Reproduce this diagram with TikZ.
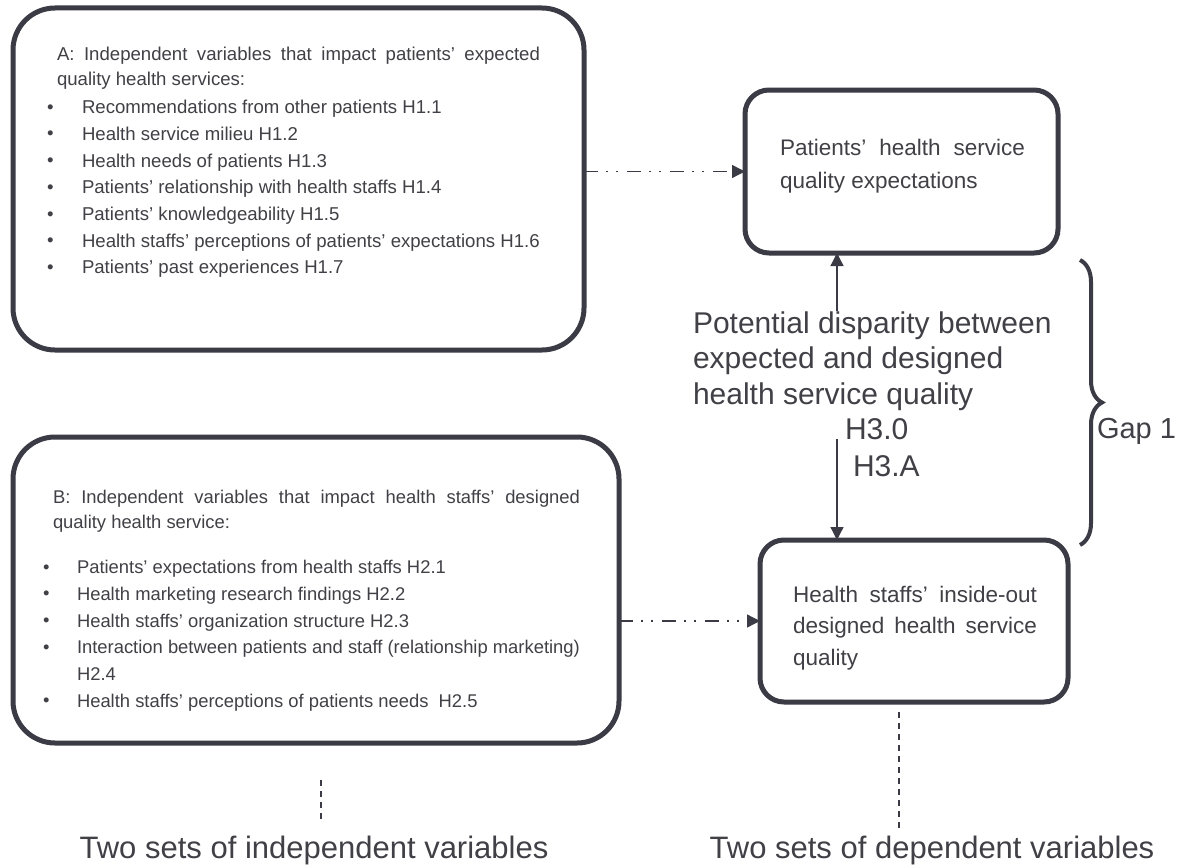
\documentclass[tikz,border=0pt]{standalone}
\usepackage{fontspec}
\setmainfont{Liberation Sans}
\usetikzlibrary{arrows.meta,decorations.pathreplacing,calc}
\definecolor{ink}{HTML}{3A3B45}
\definecolor{txt}{HTML}{404046}
% one bulleted line: shift of the bullet, room for the bullet, text
\newcommand\bulletline[3]{\noindent\hspace*{#1}\makebox[#2][l]{\raisebox{0.5pt}{•}}#3\par}
\begin{document}
\begin{tikzpicture}[x=1pt,y=-1pt,
  bigbox/.style={draw=ink, line width=5pt, rounded corners=42pt, inner sep=0pt, outer sep=0pt},
  smallbox/.style={draw=ink, line width=5pt, rounded corners=24pt, inner sep=0pt, outer sep=0pt},
  txtnode/.style={inner sep=0pt, outer sep=0pt, text=txt},
  linkarrow/.style={draw=ink, line width=1.3pt,
    dash pattern=on 14pt off 8pt on 2pt off 8pt on 2pt off 9pt,
    -{Triangle[length=13pt,width=13pt]}},
  gaparrow/.style={draw=ink, line width=1.3pt, -{Triangle[length=13pt,width=13pt]}},
  guide/.style={draw=ink, line width=1.2pt, dash pattern=on 6pt off 5pt},
]
\fill[white] (0,0) rectangle (1188,867);
\useasboundingbox (0,0) rectangle (1188,867);

% ---- boxes ----
\node[bigbox, minimum width=571pt, minimum height=342pt] (boxA) at (298.5,179) {};
\node[bigbox, minimum width=606pt, minimum height=306pt] (boxB) at (316,590) {};
\node[smallbox, minimum width=313pt, minimum height=163pt] (boxP) at (901.5,171.5) {};
\node[smallbox, minimum width=308pt, minimum height=162pt] (boxH) at (914,621) {};

% ---- box A contents ----
\node[txtnode, anchor=base west] (listA) at (57,60) {\begin{minipage}[t]{483pt}
  \fontsize{18.6}{25}\selectfont\parindent=0pt
  \makebox[483pt][s]{A: Independent variables that impact patients’ expected}\par
  quality health services:\par
  \vspace{2pt}
  {\fontsize{18.6}{26.7}\selectfont
  \bulletline{-10pt}{35pt}{Recommendations from other patients H1.1}
  \bulletline{-10pt}{35pt}{Health service milieu H1.2}
  \bulletline{-10pt}{35pt}{Health needs of patients H1.3}
  \bulletline{-10pt}{35pt}{Patients’ relationship with health staffs H1.4}
  \bulletline{-10pt}{35pt}{Patients’ knowledgeability H1.5}
  \bulletline{-10pt}{35pt}{Health staffs’ perceptions of patients’ expectations H1.6}
  \bulletline{-10pt}{35pt}{Patients’ past experiences H1.7}}
\end{minipage}};

% ---- box B contents ----
\node[txtnode, anchor=base west] (listB) at (53,503.6) {\begin{minipage}[t]{527pt}
  \fontsize{18.4}{25}\selectfont\parindent=0pt
  \makebox[527pt][s]{B: Independent variables that impact health staffs’ designed}\par
  quality health service:\par
  \vspace{18.3pt}
  {\fontsize{18.4}{26.7}\selectfont
  \bulletline{-10pt}{34pt}{Patients’ expectations from health staffs H2.1}
  \bulletline{-10pt}{34pt}{Health marketing research findings H2.2}
  \bulletline{-10pt}{34pt}{Health staffs’ organization structure H2.3}
  \bulletline{-10pt}{34pt}{Interaction between patients and staff (relationship marketing)}
  \noindent\hspace*{24pt}H2.4\par
  \bulletline{-10pt}{34pt}{Health staffs’ perceptions of patients needs\ \ H2.5}}
\end{minipage}};

% ---- dependent variable boxes ----
\node[txtnode, anchor=base west] (textP) at (780,155) {\begin{minipage}[t]{245pt}
  \fontsize{22.5}{33}\selectfont\parindent=0pt
  \makebox[245pt][s]{Patients’ health service}\par
  quality expectations
\end{minipage}};
\node[txtnode, anchor=base west] (textH) at (793,602) {\begin{minipage}[t]{244pt}
  \fontsize{22.5}{31.5}\selectfont\parindent=0pt
  \makebox[244pt][s]{Health staffs’ inside-out}\par
  \makebox[244pt][s]{designed health service}\par
  quality
\end{minipage}};

% ---- gap between expected and designed quality ----
\node[txtnode, anchor=base west] (gapText) at (693,333) {\begin{minipage}[t]{380pt}
  \fontsize{30}{35.5}\selectfont\parindent=0pt
  Potential disparity between\par
  expected and designed\par
  health service quality
\end{minipage}};
\node[txtnode, anchor=base west] (h30) at (845,439) {\fontsize{30}{36}\selectfont H3.0};
\node[txtnode, anchor=base west] (h3a) at (853,476) {\fontsize{30}{36}\selectfont H3.A};
\coordinate (axis) at (837,0);
\draw[gaparrow] (gapText.north -| axis) -- (boxP.south -| axis);
\draw[gaparrow] (h30.south -| axis) -- (boxH.north -| axis);

% brace spanning both dependent boxes
\draw[ink, line width=4pt, decorate, decoration={brace, amplitude=22pt}] (1080,260) -- (1080,545);
\node[txtnode, anchor=base west] (gapLabel) at (1097,438.5) {\fontsize{29}{35}\selectfont Gap 1};

% ---- links from variable sets to outcomes ----
\draw[linkarrow] (boxA.east |- boxP.west) -- (boxP.west);
\draw[linkarrow] (boxB.east |- boxH.west) -- (boxH.west);

% ---- bottom captions ----
\node[txtnode, anchor=base] (indepLabel) at (314,858) {\fontsize{31}{36}\selectfont Two sets of independent variables};
\node[txtnode, anchor=base] (depLabel) at (932,858) {\fontsize{31}{36}\selectfont Two sets of dependent variables};
\coordinate (indepTop) at (321,780);
\coordinate (depAxis) at (899,0);
\draw[guide, shorten >=13pt] (indepTop) -- (indepTop |- indepLabel.north);
\draw[guide, shorten <=10pt, shorten >=6pt] (boxH.south -| depAxis) -- (depAxis |- depLabel.north);
\end{tikzpicture}
\end{document}
